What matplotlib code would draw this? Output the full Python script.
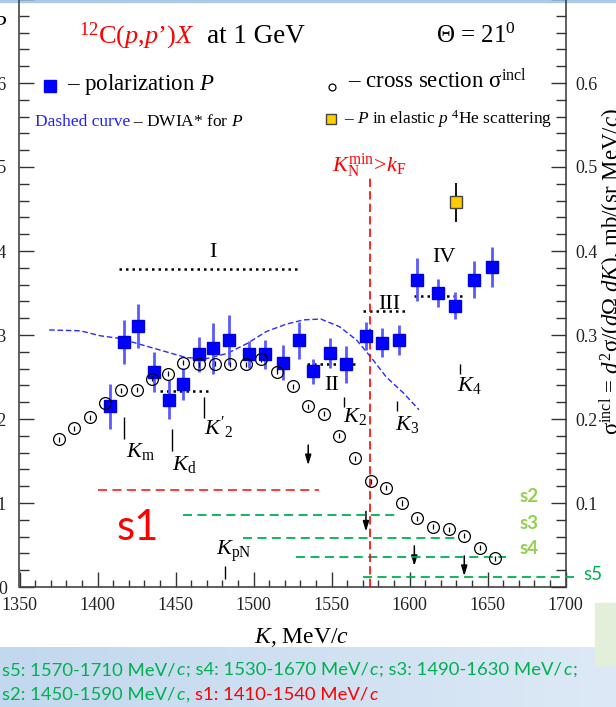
import numpy as np
import matplotlib
matplotlib.use("Agg")
import matplotlib.pyplot as plt
from matplotlib.ticker import MultipleLocator, FuncFormatter
from matplotlib.patches import Rectangle

plt.rcParams['font.family'] = ['Liberation Serif', 'DejaVu Serif']
plt.rcParams['mathtext.fontset'] = 'custom'
plt.rcParams['mathtext.rm'] = 'Liberation Serif'
plt.rcParams['mathtext.it'] = 'Liberation Serif:italic'
plt.rcParams['mathtext.bf'] = 'Liberation Serif:bold'

# polarization P (blue squares)
k_pol = [1408, 1417, 1426, 1436, 1446, 1455, 1465, 1474, 1484, 1497, 1507, 1519,
         1529, 1538, 1549, 1559, 1572, 1582, 1593, 1605, 1618, 1629, 1641, 1653]
pol = [0.215, 0.292, 0.311, 0.256, 0.223, 0.242, 0.277, 0.284, 0.294, 0.277, 0.277, 0.267,
       0.294, 0.257, 0.279, 0.265, 0.299, 0.291, 0.294, 0.366, 0.350, 0.335, 0.366, 0.381]
pol_err = [0.027, 0.026, 0.026, 0.024, 0.023, 0.019, 0.021, 0.030, 0.030, 0.016, 0.017, 0.021,
           0.022, 0.015, 0.018, 0.022, 0.017, 0.017, 0.018, 0.026, 0.017, 0.016, 0.022, 0.024]

# inclusive cross section (open circles), mb/(sr MeV/c)
k_xs = [1375, 1385, 1395, 1405, 1415, 1425, 1435, 1445, 1455, 1465, 1475, 1485, 1495, 1505,
        1515, 1525, 1535, 1545, 1555, 1565, 1575, 1585, 1595, 1605, 1615, 1625, 1635, 1645, 1655]
xs = [0.176, 0.189, 0.202, 0.219, 0.234, 0.235, 0.248, 0.254, 0.267, 0.265, 0.266, 0.265,
      0.265, 0.271, 0.256, 0.239, 0.215, 0.206, 0.180, 0.153, 0.126, 0.118, 0.100, 0.082,
      0.072, 0.069, 0.061, 0.047, 0.034]
xs_err = 0.003

# DWIA calculation for P
k_dwia = [1369, 1389, 1402, 1414, 1429, 1444, 1457, 1470, 1483, 1496, 1508, 1521, 1532,
          1543, 1555, 1566, 1575, 1585, 1596, 1606]
p_dwia = [0.306, 0.305, 0.299, 0.296, 0.288, 0.280, 0.273, 0.272, 0.278, 0.290, 0.304, 0.313,
          0.318, 0.319, 0.310, 0.294, 0.274, 0.250, 0.231, 0.211]

# P in elastic p 4He scattering
k_he, p_he, p_he_err = 1630, 0.458, 0.023

# averaging regions I..IV (dotted)
reg_k0 = [1414, 1440, 1534, 1570, 1603]
reg_k1 = [1529, 1472, 1567, 1599, 1635]
reg_p = [0.379, 0.233, 0.266, 0.328, 0.346]
roman = ['I', 'II', 'III', 'IV']
roman_k = [1474, 1550, 1587, 1622]
roman_p = [0.393, 0.234, 0.331, 0.387]

# characteristic momenta
kmark_k = [1417, 1448, 1468, 1558, 1592, 1632, 1482]
kmark_lo = [0.176, 0.162, 0.201, 0.214, 0.209, 0.254, 0.009]
kmark_hi = [0.202, 0.188, 0.226, 0.226, 0.221, 0.266, 0.025]
kmark_lbl = [r'$K_{\mathrm{m}}$', r'$K_{\mathrm{d}}$', r"$K'_{2}$", r'$K_{2}$',
             r'$K_{3}$', r'$K_{4}$', r'$K_{\mathrm{pN}}$']
kmark_tx = [1418, 1448, 1468.5, 1557.5, 1590.5, 1630.5, 1476]
kmark_ty = [0.155, 0.139, 0.181, 0.196, 0.187, 0.233, 0.038]

# downward arrows
arr_k = [1535, 1572, 1603, 1635]
arr_top = [0.169, 0.090, 0.049, 0.037]
arr_len = 0.024

# momentum windows s1..s5
s_names = ['s1', 's2', 's3', 's4', 's5']
s_k0 = [1400, 1455, 1493, 1527, 1570]
s_k1 = [1542, 1592, 1629, 1662, 1705]
s_y = [0.1155, 0.0855, 0.058, 0.036, 0.0125]

k_fermi = 1574.5

W, H = 616, 707
fig = plt.figure(figsize=(W / 100, H / 100), dpi=100)
fig.patch.set_facecolor('white')


def fx(px):
    return px / W


def fy(py):
    return 1 - py / H


# slide band at the bottom
band = fig.add_axes([0, 0, 1, 60 / H], zorder=0)
grad = np.linspace(0, 1, 256)[None, :]
band.imshow(grad, aspect='auto', extent=[0, 1, 0, 1],
            cmap=matplotlib.colors.LinearSegmentedColormap.from_list('b', ['#c2d8ee', '#dde9f6']))
band.axis('off')
fig.add_artist(Rectangle((fx(595), fy(665)), 21 / W, 62 / H, transform=fig.transFigure,
                         color='#e2efda', zorder=1))
fig.add_artist(Rectangle((0, fy(1.5)), 1, 1.5 / H, transform=fig.transFigure,
                         color='#a9cbe9', zorder=1))

ax = fig.add_axes([fx(19.5), fy(587), (565.7 - 19.5) / W, 588 / H], zorder=2)
ax.patch.set_alpha(0)

ax.plot(k_dwia, p_dwia, color='#2a2aff', lw=1.0, ls=(0, (4, 2)), zorder=3)
ax.errorbar(k_pol, pol, yerr=pol_err, fmt='s', ms=9, mfc='#0000ff', mec='#0000dd',
            ecolor='#5a5aff', elinewidth=2, capsize=0, zorder=4)
ax.errorbar(k_xs, xs, yerr=xs_err, fmt='o', ms=8.5, mfc='none', mec='k', mew=0.9,
            ecolor='k', elinewidth=0.9, capsize=0, zorder=5)
ax.errorbar([k_he], [p_he], yerr=[p_he_err], fmt='s', ms=8, mfc='#ffcc00', mec='#444444',
            mew=1, ecolor='k', elinewidth=1.3, capsize=0, zorder=5)

ax.hlines(reg_p, reg_k0, reg_k1, colors='k', linestyles=(0, (1, 1.6)), lw=1.8, zorder=3)
for name, k, p in zip(roman, roman_k, roman_p):
    ax.text(k, p, name, ha='center', va='baseline', fontsize=16)

ax.vlines(kmark_k, kmark_lo, kmark_hi, colors='k', lw=1)
for lbl, k, p in zip(kmark_lbl, kmark_tx, kmark_ty):
    ax.text(k, p, lbl, ha='left', va='baseline', fontsize=16)

for k, top in zip(arr_k, arr_top):
    ax.annotate('', xy=(k, top - arr_len), xytext=(k, top),
                arrowprops=dict(arrowstyle='-|>,head_length=0.6,head_width=0.18',
                                color='k', lw=1.1, shrinkA=0, shrinkB=0))

for name, k0, k1, y in zip(s_names, s_k0, s_k1, s_y):
    col = '#ff2a2a' if name == 's1' else '#00b050'
    ax.plot([k0, k1], [y, y], color=col, lw=1.3, ls=(0, (5, 3)), clip_on=False, zorder=3)

ax.vlines(k_fermi, 0, 0.488, colors='#ff0000', linestyles=(0, (5, 2.5)), lw=1.2, zorder=3)
ax.text(1550, 0.494, r'$K_{\mathrm{N}}^{\mathrm{min}}\!>\!k_{\mathrm{F}}$', color='#ff0000',
        fontsize=16, ha='left', va='baseline')

ax.set_xlim(1350, 1700)
ax.set_ylim(0, 0.7)
ax.xaxis.set_major_locator(MultipleLocator(50))
ax.xaxis.set_minor_locator(MultipleLocator(10))
ax.yaxis.set_major_locator(MultipleLocator(0.1))
ax.yaxis.set_minor_locator(MultipleLocator(0.02))
ax.yaxis.set_major_formatter(FuncFormatter(
    lambda v, _: '0' if abs(v) < 1e-9 else ('' if v > 0.65 else f'{v:.1f}')))
ax.tick_params(which='both', direction='in', top=False, right=False, colors='#333333',
               labelsize=13, labelcolor='#222222')
ax.tick_params(which='major', length=11, width=1)
ax.tick_params(which='minor', length=7, width=1)
ax.tick_params(axis='x', which='minor', length=5)
ax.tick_params(axis='x', pad=7)
ax.tick_params(axis='y', pad=9)
ax.spines['top'].set_visible(False)
for s in ('left', 'right', 'bottom'):
    ax.spines[s].set_color('#444444')
    ax.spines[s].set_linewidth(1.2)

ax2 = ax.twinx()
ax2.set_ylim(0, 0.7)
ax2.yaxis.set_major_locator(MultipleLocator(0.1))
ax2.yaxis.set_minor_locator(MultipleLocator(0.02))
ax2.yaxis.set_major_formatter(FuncFormatter(
    lambda v, _: '' if (abs(v) < 1e-9 or v > 0.65) else f'{v:.1f}'))
ax2.tick_params(which='both', direction='in', colors='#333333', labelsize=13,
                labelcolor='#222222', pad=7)
ax2.tick_params(which='major', length=11, width=1)
ax2.tick_params(which='minor', length=7, width=1)
for s in ('top', 'left', 'bottom', 'right'):
    ax2.spines[s].set_visible(False)

# headings and key
fig.text(fx(194), fy(43), r"$^{12}$C($p$,$p$’)$X$", color='#ff0000', fontsize=19,
         ha='right', va='baseline')
fig.text(fx(207), fy(43), 'at 1 GeV', fontsize=19.5, ha='left', va='baseline')
fig.text(fx(436), fy(43), r'Θ = 21$^{0}$', fontsize=18, ha='left', va='baseline')

ax.plot([fx(50)], [fy(86)], 's', ms=8, color='#0000ff', transform=fig.transFigure, clip_on=False)
fig.text(fx(67), fy(90), r'– polarization $P$', fontsize=16.5, ha='left', va='baseline')
fig.text(fx(35), fy(126), 'Dashed curve', color='#2020ff', fontsize=12.5, ha='left', va='baseline')
fig.text(fx(133), fy(126), r'– DWIA* for $P$', fontsize=12.5, ha='left', va='baseline')

ax.plot([fx(332)], [fy(87)], 'o', ms=5, mfc='none', mec='k', mew=0.9,
        transform=fig.transFigure, clip_on=False)
fig.text(fx(348), fy(88), r'– cross section σ$^{\mathrm{incl}}$', fontsize=16.5,
         ha='left', va='baseline')
ax.plot([fx(331)], [fy(119)], 's', ms=7, mfc='#ffcc00', mec='#444444', mew=1,
        transform=fig.transFigure, clip_on=False)
fig.text(fx(344), fy(124), r'– $P$ in elastic $p$ $^{4}$He scattering', fontsize=12.5,
         ha='left', va='baseline')

fig.text(fx(302), fy(643), r'$K$, MeV/$c$', fontsize=17, ha='center', va='baseline')
fig.text(fx(598), fy(272), r'σ$^{\mathrm{incl}}$ = $d^{2}$σ/($d$Ω $dK$), mb/(sr MeV/$c$)',
         fontsize=16.5, rotation=90, ha='left', va='center')
fig.text(fx(7), fy(25), r'$P$', fontsize=16, ha='right', va='center')

# window labels
fig.text(fx(117), fy(540), 's1', family='Lato', color='#ff0000', fontsize=30,
         ha='left', va='baseline')
for name, py in zip(s_names[1:4], [496, 523.5, 548.5]):
    fig.text(fx(520), fy(py), name, family='Lato', weight='bold', color='#92d050',
             fontsize=13.5, ha='left', va='center')
fig.text(fx(583), fy(575), 's5', family='Lato', color='#00b050', fontsize=13.5,
         ha='left', va='center')

renderer = fig.canvas.get_renderer()


def chain(x, y, parts, size=13.3):
    for s, col, style in parts:
        t = fig.text(fx(x), fy(y), s, family='Lato', color=col, fontstyle=style,
                     fontsize=size, ha='left', va='baseline', zorder=3)
        x = t.get_window_extent(renderer=renderer).x1 + 1
    return x


green, red = '#00b050', '#ff0000'
chain(2, 675, [('s5: 1570-1710 MeV/', green, 'normal'), ('c', green, 'italic'),
               ('; s4: 1530-1670 MeV/', green, 'normal'), ('c', green, 'italic'),
               ('; s3: 1490-1630 MeV/', green, 'normal'), ('c', green, 'italic'),
               (';', green, 'normal')])
xe = chain(2, 700, [('s2: 1450-1590 MeV/', green, 'normal'), ('c', green, 'italic'),
                    (',', green, 'normal')])
chain(xe + 4, 700, [('s1: 1410-1540 MeV/', red, 'normal'), ('c', red, 'italic')])

fig.savefig('out.png', dpi=100)
